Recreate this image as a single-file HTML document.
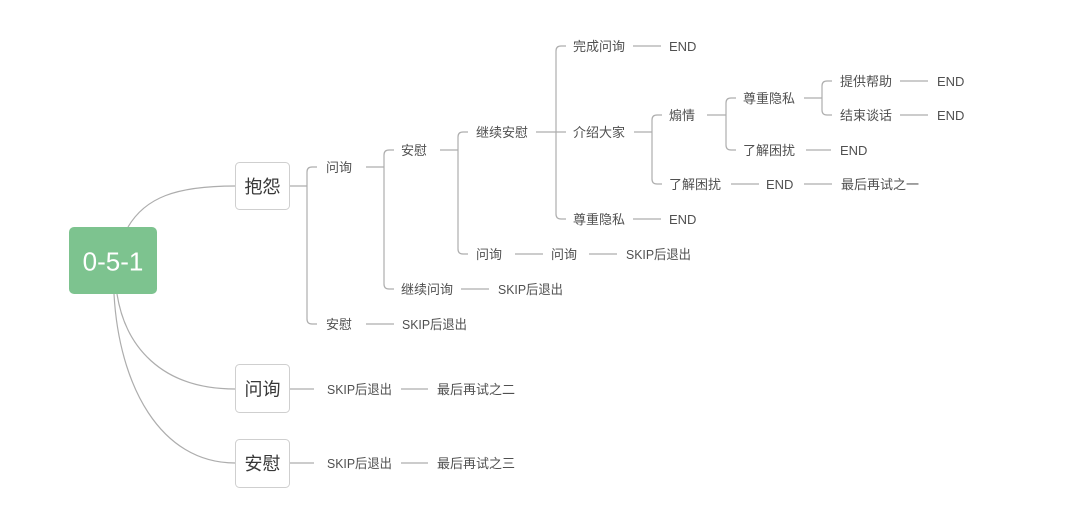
<!DOCTYPE html>
<html>
<head>
<meta charset="utf-8">
<style>
  html, body { margin:0; padding:0; background:#fff; }
  body { width:1080px; height:525px; overflow:hidden; }
  svg { display:block; }
  .t { font-family:"Liberation Sans","Noto Sans CJK SC","Microsoft YaHei",sans-serif; font-size:13px; fill:#505050; }
  .b { font-family:"Liberation Sans","Noto Sans CJK SC",sans-serif; font-size:18px; fill:#383838; }
  .r { font-family:"Liberation Sans","Noto Sans CJK SC",sans-serif; font-size:26px; fill:#fff; }
  .ln { stroke:#adadad; stroke-width:1.2; fill:none; }
</style>
</head>
<body>
<svg width="1080" height="525" viewBox="0 0 1080 525" xmlns="http://www.w3.org/2000/svg">
  <!-- root curves -->
  <path class="ln" d="M128,227 C145,198 175,186 235,186"/>
  <path class="ln" d="M117,294 C125,345 160,389 235,389"/>
  <path class="ln" d="M114,294 C119,385 160,463 235,463"/>

  <!-- root -->
  <rect x="69" y="227" width="88" height="67" rx="5" fill="#7dc38f"/>
  <text class="r" x="113" y="270.5" text-anchor="middle">0-5-1</text>

  <!-- level-1 boxes -->
  <rect x="235.5" y="162.5" width="54" height="47" rx="4" fill="#fff" stroke="#cfcfcf"/>
  <text class="b" x="262.5" y="193" text-anchor="middle">抱怨</text>
  <rect x="235.5" y="364.5" width="54" height="48" rx="4" fill="#fff" stroke="#cfcfcf"/>
  <text class="b" x="262.5" y="395.5" text-anchor="middle">问询</text>
  <rect x="235.5" y="439.5" width="54" height="48" rx="4" fill="#fff" stroke="#cfcfcf"/>
  <text class="b" x="262.5" y="470" text-anchor="middle">安慰</text>

  <!-- brackets -->
  <path class="ln" d="M290,186 H307"/>
  <path class="ln" d="M317,167 H312 Q307,167 307,172 V319 Q307,324 312,324 H317"/>
  <path class="ln" d="M366,167 H384"/>
  <path class="ln" d="M394,150 H389 Q384,150 384,155 V284 Q384,289 389,289 H394"/>
  <path class="ln" d="M440,150 H458"/>
  <path class="ln" d="M468,132 H463 Q458,132 458,137 V249 Q458,254 463,254 H468"/>
  <path class="ln" d="M536,132 H566"/>
  <path class="ln" d="M566,46 H561 Q556,46 556,51 V214 Q556,219 561,219 H566"/>
  <path class="ln" d="M634,132 H652"/>
  <path class="ln" d="M662,115 H657 Q652,115 652,120 V179 Q652,184 657,184 H662"/>
  <path class="ln" d="M707,115 H726"/>
  <path class="ln" d="M736,98 H731 Q726,98 726,103 V145 Q726,150 731,150 H736"/>
  <path class="ln" d="M804,98 H822"/>
  <path class="ln" d="M832,81 H827 Q822,81 822,86 V110 Q822,115 827,115 H832"/>

  <!-- simple connectors -->
  <path class="ln" d="M633,46 H661"/>
  <path class="ln" d="M900,81 H928"/>
  <path class="ln" d="M900,115 H928"/>
  <path class="ln" d="M806,150 H831"/>
  <path class="ln" d="M731,184 H759"/>
  <path class="ln" d="M804,184 H832"/>
  <path class="ln" d="M633,219 H661"/>
  <path class="ln" d="M515,254 H543"/>
  <path class="ln" d="M589,254 H617"/>
  <path class="ln" d="M461,289 H489"/>
  <path class="ln" d="M366,324 H394"/>
  <path class="ln" d="M290,389 H314"/>
  <path class="ln" d="M401,389 H428"/>
  <path class="ln" d="M290,463 H314"/>
  <path class="ln" d="M401,463 H428"/>

  <!-- texts -->
  <text class="t" x="573" y="51">完成问询</text>
  <text class="t" x="669" y="51">END</text>

  <text class="t" x="840" y="86">提供帮助</text>
  <text class="t" x="937" y="86">END</text>

  <text class="t" x="743" y="103">尊重隐私</text>

  <text class="t" x="840" y="120">结束谈话</text>
  <text class="t" x="937" y="120">END</text>
  <text class="t" x="669" y="120">煽情</text>

  <text class="t" x="476" y="137">继续安慰</text>
  <text class="t" x="573" y="137">介绍大家</text>

  <text class="t" x="401" y="155">安慰</text>
  <text class="t" x="743" y="155">了解困扰</text>
  <text class="t" x="840" y="155">END</text>

  <text class="t" x="326" y="172">问询</text>

  <text class="t" x="669" y="189">了解困扰</text>
  <text class="t" x="766" y="189">END</text>
  <text class="t" x="841" y="189">最后再试之一</text>

  <text class="t" x="573" y="224">尊重隐私</text>
  <text class="t" x="669" y="224">END</text>

  <text class="t" x="476" y="259">问询</text>
  <text class="t" x="551" y="259">问询</text>
  <text class="t" x="626" y="259" textLength="65" lengthAdjust="spacingAndGlyphs">SKIP后退出</text>

  <text class="t" x="401" y="294">继续问询</text>
  <text class="t" x="498" y="294" textLength="65" lengthAdjust="spacingAndGlyphs">SKIP后退出</text>

  <text class="t" x="326" y="329">安慰</text>
  <text class="t" x="402" y="329" textLength="65" lengthAdjust="spacingAndGlyphs">SKIP后退出</text>

  <text class="t" x="327" y="394" textLength="65" lengthAdjust="spacingAndGlyphs">SKIP后退出</text>
  <text class="t" x="437" y="394">最后再试之二</text>

  <text class="t" x="327" y="468" textLength="65" lengthAdjust="spacingAndGlyphs">SKIP后退出</text>
  <text class="t" x="437" y="468">最后再试之三</text>
</svg>
</body>
</html>
